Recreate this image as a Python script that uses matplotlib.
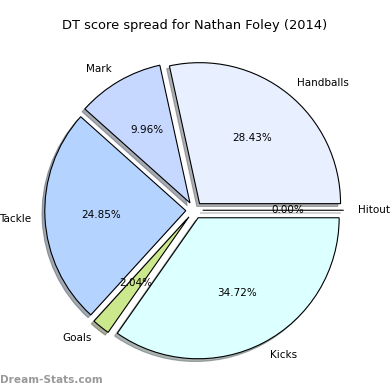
import matplotlib
matplotlib.use('Agg')
import matplotlib.pyplot as plt

labels = ['Hitout', 'Handballs', 'Mark', 'Tackle', 'Goals', 'Kicks']
values = [0.00, 28.43, 9.96, 24.85, 2.04, 34.72]
colors = ['#ffe8e8', '#e8efff', '#c6d8ff', '#b4d4ff', '#cce88c', '#dcffff']
explode = [0.06] * len(values)

fig = plt.figure(figsize=(3.9, 3.9), dpi=100)
ax = fig.add_axes([18 / 390, 3.5 / 390, 352.5 / 390, 352.5 / 390])

wedges, texts, autotexts = ax.pie(values, labels=labels, colors=colors, explode=explode,
                                  autopct='%1.2f%%',
                                  shadow={'ox': -0.014, 'oy': -0.014, 'shade': 0.6},
                                  wedgeprops={'edgecolor': 'black', 'linewidth': 0.8},
                                  textprops={'fontsize': 7.5})
ax.set_xlim(-1.25, 1.25)
ax.set_ylim(-1.25, 1.25)
ax.set_aspect('equal')

fig.text(0.5, 1 - 25 / 390, 'DT score spread for Nathan Foley (2014)',
         ha='center', va='center', fontsize=9.4)
fig.text(0.0, 1 - 380 / 390, 'Dream-Stats.com', ha='left', va='center',
         fontsize=7.6, color='#999999', fontweight='bold')

fig.savefig('out.png', dpi=100)
